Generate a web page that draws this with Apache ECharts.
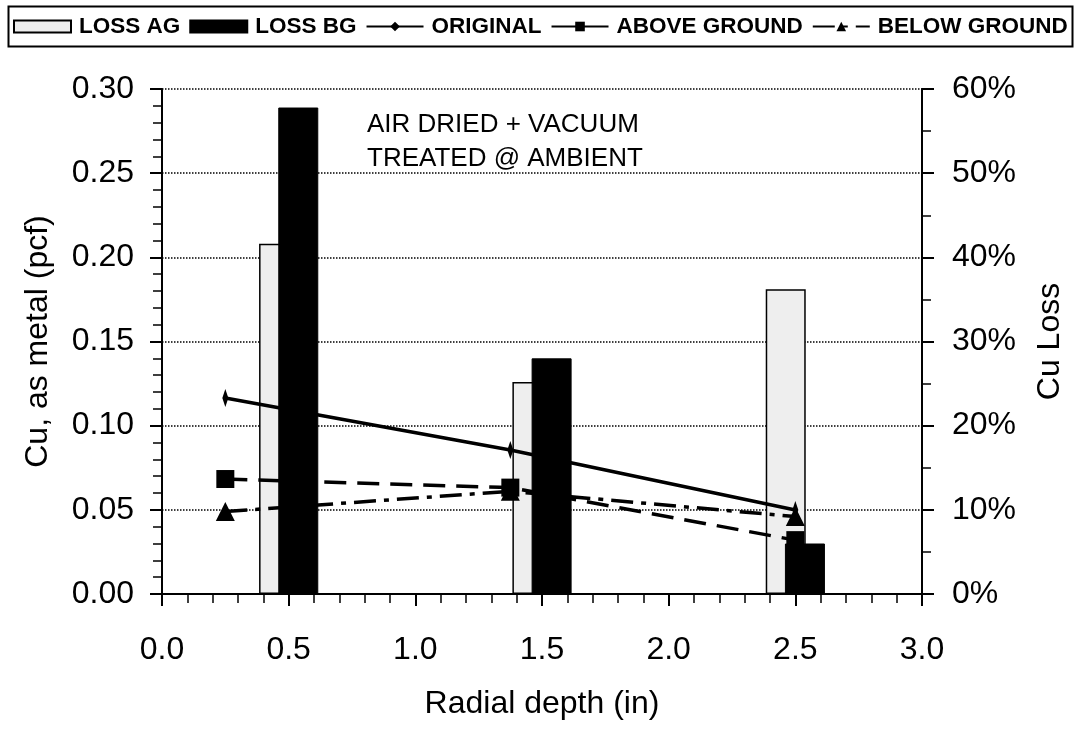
<!DOCTYPE html>
<html><head><meta charset="utf-8">
<script src="https://cdn.jsdelivr.net/npm/echarts@6/dist/echarts.min.js"></script>
<style>html,body{margin:0;padding:0;background:#fff}#c{width:1074px;height:735px}</style>
</head><body><div id="c"></div>
<script>
// ---- data ----
const seriesNames = ['LOSS AG', 'LOSS BG', 'ORIGINAL', 'ABOVE GROUND', 'BELOW GROUND'];
const barDepths = [0.5, 1.5, 2.5];
const lossAG = [0.416, 0.252, 0.362];
const lossBG = [0.578, 0.280, 0.060];
const lineDepths = [0.25, 1.375, 2.5];
const original = [0.1164, 0.0855, 0.0499];
const aboveGround = [0.0683, 0.0632, 0.032];
const belowGround = [0.049, 0.061, 0.046];
const xTickLabels = ['0.0', '0.5', '1.0', '1.5', '2.0', '2.5', '3.0'];
const leftTickLabels = ['0.00', '0.05', '0.10', '0.15', '0.20', '0.25', '0.30'];
const rightTickLabels = ['0%', '10%', '20%', '30%', '40%', '50%', '60%'];
const annotation = ['AIR DRIED + VACUUM', 'TREATED @ AMBIENT'];
const titles = { x: 'Radial depth (in)', yLeft: 'Cu, as metal (pcf)', yRight: 'Cu Loss' };

// ---- chart ----
const FONT = '"Liberation Sans", Arial, sans-serif';
const pair = (xs, ys) => ys.map((v, i) => [xs[i], v]);
const chart = echarts.init(document.getElementById('c'), null, { renderer: 'canvas' });
const axisCommon = {
  axisLine: { show: true, onZero: false, lineStyle: { color: '#000', width: 2 } },
  axisTick: { show: true, length: 12, lineStyle: { color: '#000', width: 2 } },
  minorTick: { show: true, splitNumber: 5, length: 9, lineStyle: { color: '#000', width: 1.5 } },
  nameLocation: 'middle',
  nameTextStyle: { fontSize: 32, color: '#000', fontFamily: FONT }
};
chart.setOption({
  animation: false,
  backgroundColor: '#fff',
  grid: { left: 162, right: 151, top: 89, bottom: 141, containLabel: false },
  legend: {
    left: 13, top: 15, padding: 0, itemWidth: 57, itemHeight: 12, itemGap: 9,
    textStyle: { fontSize: 22.5, fontWeight: 'bold', color: '#000', fontFamily: FONT, padding: [0, 0, 0, 3] },
    data: [
      { name: seriesNames[0], icon: 'rect' },
      { name: seriesNames[1], icon: 'rect' },
      { name: seriesNames[2] },
      { name: seriesNames[3], lineStyle: { type: 'solid' } },
      { name: seriesNames[4] }
    ]
  },
  graphic: [
    { type: 'rect', left: 6, top: 4, z: -1, shape: { width: 1064, height: 40 },
      style: { fill: 'none', stroke: '#000', lineWidth: 2 } },
    { type: 'text', left: 367, top: 108, z: 10,
      style: { text: annotation.join('\n'), font: '26px ' + FONT, fill: '#000', lineHeight: 34 } }
  ],
  xAxis: Object.assign({}, axisCommon, {
    type: 'value', min: 0, max: 3, interval: 0.5,
    splitLine: { show: false },
    axisLabel: { formatter: (v, i) => xTickLabels[i], fontSize: 32, color: '#000', margin: 40, fontFamily: FONT },
    name: titles.x, nameGap: 94
  }),
  yAxis: [
    Object.assign({}, axisCommon, {
      type: 'value', min: 0, max: 0.3, interval: 0.05, position: 'left',
      splitLine: { show: true, lineStyle: { color: '#000', type: 'dotted', width: 1.5 } },
      axisLabel: { formatter: (v, i) => leftTickLabels[i], fontSize: 32, color: '#000', margin: 28, fontFamily: FONT },
      name: titles.yLeft, nameGap: 108
    }),
    Object.assign({}, axisCommon, {
      type: 'value', min: 0, max: 0.6, interval: 0.1, position: 'right',
      minorTick: { show: true, splitNumber: 2, length: 9, lineStyle: { color: '#000', width: 1.5 } },
      splitLine: { show: false },
      axisLabel: { formatter: (v, i) => rightTickLabels[i], fontSize: 32, color: '#000', margin: 30, fontFamily: FONT },
      name: titles.yRight, nameGap: 112, nameRotate: 90
    })
  ],
  series: [
    { name: seriesNames[0], type: 'bar', yAxisIndex: 1, z: 2, barWidth: 40, barGap: '-52%',
      data: pair(barDepths, lossAG),
      itemStyle: { color: '#eeeeee', borderColor: '#000', borderWidth: 1.5 } },
    { name: seriesNames[1], type: 'bar', yAxisIndex: 1, z: 4, barWidth: 40, barGap: '-52%',
      data: pair(barDepths, lossBG),
      itemStyle: { color: '#000', borderColor: '#000', borderWidth: 1 } },
    { name: seriesNames[2], type: 'line', yAxisIndex: 0, z: 3, data: pair(lineDepths, original),
      symbol: 'diamond', symbolSize: [6, 18], showAllSymbol: true,
      lineStyle: { color: '#000', width: 3.5 }, itemStyle: { color: '#000' } },
    { name: seriesNames[3], type: 'line', yAxisIndex: 0, z: 3, data: pair(lineDepths, aboveGround),
      symbol: 'rect', symbolSize: 18,
      lineStyle: { color: '#000', width: 3.5, type: [22, 11] }, itemStyle: { color: '#000' } },
    { name: seriesNames[4], type: 'line', yAxisIndex: 0, z: 3, data: pair(lineDepths, belowGround),
      symbol: 'triangle', symbolSize: 19,
      lineStyle: { color: '#000', width: 3.5, type: [22, 8, 5, 8] }, itemStyle: { color: '#000' } }
  ]
});
</script></body></html>
